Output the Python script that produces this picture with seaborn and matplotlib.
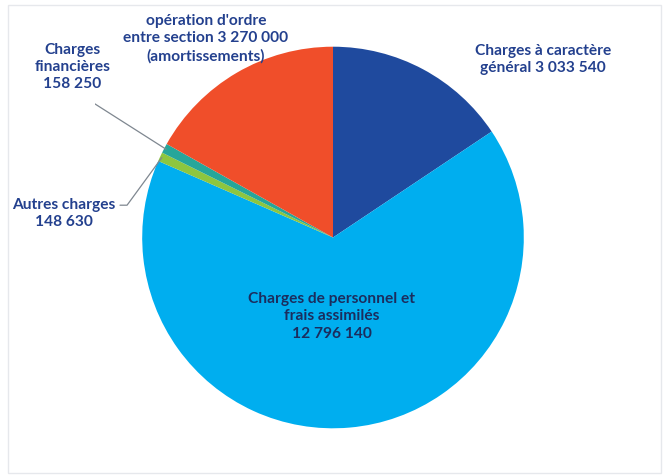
import numpy as np
import matplotlib
matplotlib.use("Agg")
import matplotlib.pyplot as plt
import seaborn as sns
from matplotlib.patches import Rectangle

# Dépenses de fonctionnement, in pie order (clockwise from 12 o'clock)
categories = ["Charges à caractère général", "Charges de personnel et frais assimilés",
              "Autres charges", "Charges financières",
              "opération d'ordre entre section (amortissements)"]
values = [3033540, 12796140, 148630, 158250, 3270000]
labels = ["Charges à caractère\ngénéral 3 033 540",
          "Charges de personnel et\nfrais assimilés\n12 796 140",
          "Autres charges\n148 630",
          "Charges\nfinancières\n158 250",
          "opération d'ordre\nentre section 3 270 000\n(amortissements)"]
colors = ["#1f4a9e", "#00aeef", "#8dc63f", "#26a69a", "#f04e2a"]

sns.set_theme(style="white")
plt.rcParams['font.family'] = ['Lato', 'DejaVu Sans']

W, H, DPI = 666, 477, 100
cx, cy, R = 335, 242, 189   # pie centre / radius in pixels

fig = plt.figure(figsize=(W / DPI, H / DPI), dpi=DPI)
ax = fig.add_axes([0, 0, 1, 1])
ax.set_xlim(-cx / R, (W - cx) / R)
ax.set_ylim(-(H - cy) / R, cy / R)
ax.set_aspect("equal")
ax.axis("off")

wedges, _ = ax.pie(values, colors=colors, startangle=90, counterclock=False,
                   radius=1, wedgeprops=dict(linewidth=0))

def px(x, y):
    return (x - cx) / R, (cy - y) / R

txt = dict(fontsize=11.2, fontweight="bold", ha="center", va="center",
           linespacing=1.3)
ax.text(*px(543, 65), labels[0], color="#23408e", **txt)
ax.text(*px(334, 319), labels[1], color="#1b2d5e", **txt)
ax.text(*px(68, 217), labels[2], color="#23408e", **txt)
ax.text(*px(77, 72), labels[3], color="#23408e", **txt)
ax.text(*px(209, 44), labels[4], color="#23408e", **txt)

# leader lines for the two thin slices
fracs = np.array(values) / sum(values)
cum = np.cumsum(fracs) - fracs / 2
mid = np.deg2rad(90 - 360 * cum)
for i, start in [(2, [(124, 210), (131, 210)]), (3, [(88, 107), (95, 107)])]:
    ex, ey = 0.99 * np.cos(mid[i]), 0.99 * np.sin(mid[i])
    pts = [px(*p) for p in start] + [(ex, ey)]
    ax.plot([p[0] for p in pts], [p[1] for p in pts], color="#7f8790", lw=0.9)

# faint frame of the scanned chart area
fig.patches.append(Rectangle((8 / W, 3 / H), 653 / W, 468 / H, transform=fig.transFigure,
                             fill=False, edgecolor="#e6e8ec", lw=1))

fig.savefig("out.png", dpi=DPI, facecolor="white")
